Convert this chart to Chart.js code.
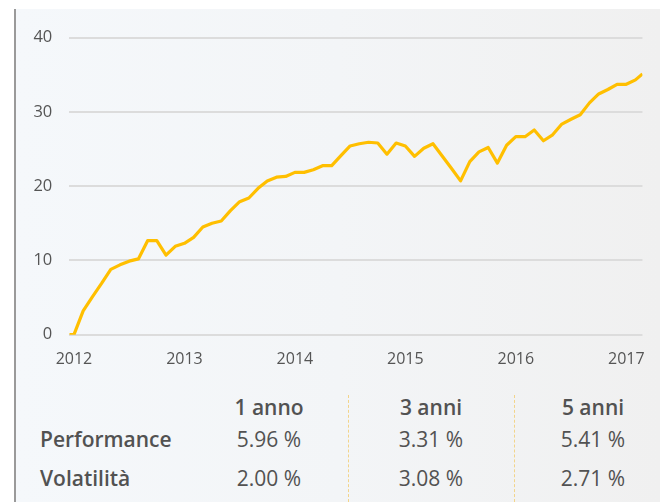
<!DOCTYPE html>
<html>
<head>
<meta charset="utf-8">
<script src="https://cdn.jsdelivr.net/npm/chart.js@4/dist/chart.umd.min.js"></script>
<style>
  html, body { margin: 0; padding: 0; background: #ffffff; }
  #wrap { position: relative; width: 660px; height: 502px; overflow: hidden; background: #ffffff; }
  #panel { position: absolute; left: 16px; top: 9px; right: 0; bottom: 0;
           background: linear-gradient(to right, #f5f8fb 0%, #f3f5f7 50%, #f0f0f0 100%); }
  #leftline { position: absolute; left: 14px; top: 9px; width: 2px; bottom: 0; background: #9a9a9a; }
  #chartbox { position: absolute; left: 0; top: 0; width: 660px; height: 390px; }
  .t { position: absolute; font-family: "Open Sans", sans-serif; color: #525252; white-space: nowrap; line-height: normal; }
  .hd { font-weight: 600; font-size: 21px; transform: translateX(-50%); }
  .rl { font-weight: 600; font-size: 21px; left: 40px; }
  .val { font-size: 21px; transform: translateX(-50%); }
  .div { position: absolute; top: 395px; bottom: 0; width: 0; border-left: 1px dashed #f2d48a; }
</style>
</head>
<body>
<div id="wrap">
  <div id="panel"></div>
  <div id="leftline"></div>
  <div id="chartbox"><canvas id="c" width="660" height="390"></canvas></div>
  <div id="table"></div>
</div>
<script>
// ---- data ----
const dates = [
  "2011-12-16",
  "2012-01-01","2012-02-01","2012-03-01","2012-04-01","2012-05-01","2012-06-01",
  "2012-07-01","2012-08-01","2012-09-01","2012-10-01","2012-11-01","2012-12-01",
  "2013-01-01","2013-02-01","2013-03-01","2013-04-01","2013-05-01","2013-06-01",
  "2013-07-01","2013-08-01","2013-09-01","2013-10-01","2013-11-01","2013-12-01",
  "2014-01-01","2014-02-01","2014-03-01","2014-04-01","2014-05-01","2014-06-01",
  "2014-07-01","2014-08-01","2014-09-01","2014-10-01","2014-11-01","2014-12-01",
  "2015-01-01","2015-02-01","2015-03-01","2015-04-01","2015-05-01","2015-06-01",
  "2015-07-01","2015-08-01","2015-09-01","2015-10-01","2015-11-01","2015-12-01",
  "2016-01-01","2016-02-01","2016-03-01","2016-04-01","2016-05-01","2016-06-01",
  "2016-07-01","2016-08-01","2016-09-01","2016-10-01","2016-11-01","2016-12-01",
  "2017-01-01","2017-02-01","2017-02-24"
];
const performance = [
  0,
  0, 3.2, 5.1, 6.9, 8.8, 9.4, 9.9, 10.2, 12.65, 12.65, 10.7, 11.9,
  12.3, 13.1, 14.5, 15.0, 15.3, 16.7, 17.9, 18.4, 19.7, 20.7, 21.2, 21.3,
  21.85, 21.85, 22.2, 22.75, 22.75, 24.1, 25.4, 25.7, 25.9, 25.8, 24.3, 25.8,
  25.4, 24.0, 25.1, 25.7, 24.05, 22.4, 20.7, 23.3, 24.6, 25.2, 23.1, 25.5,
  26.65, 26.65, 27.55, 26.1, 26.9, 28.35, 29.0, 29.6, 31.2, 32.4, 33.0, 33.7,
  33.7, 34.3, 35.1
];
const yearTicks = [2012, 2013, 2014, 2015, 2016, 2017];
const yTicks = [0, 10, 20, 30, 40];

const periods = ["1 anno", "3 anni", "5 anni"];
const rowLabels = ["Performance", "Volatilità"];
const perfValues = ["5.96 %", "3.31 %", "5.41 %"];
const volValues = ["2.00 %", "3.08 %", "2.71 %"];

// ---- helpers ----
function toYear(s) {
  const [y, m, d] = s.split("-").map(Number);
  return y + (m - 1) / 12 + (d - 1) / 365;
}
const points = dates.map((d, i) => ({ x: toYear(d), y: performance[i] }));

const FONT = '"Open Sans", sans-serif';
new Chart(document.getElementById("c"), {
  type: "line",
  data: {
    datasets: [{
      data: points,
      borderColor: "#ffbf00",
      borderWidth: 3.2,
      pointRadius: 0,
      tension: 0,
      fill: false,
      borderJoinStyle: "round"
    }]
  },
  options: {
    responsive: false,
    animation: false,
    devicePixelRatio: 1,
    layout: { padding: { top: 37.5, right: 15, left: 0, bottom: 0 } },
    plugins: { legend: { display: false }, tooltip: { enabled: false } },
    scales: {
      x: {
        type: "linear",
        min: toYear(dates[0]),
        max: toYear(dates[dates.length - 1]),
        afterBuildTicks: (s) => { s.ticks = yearTicks.map(v => ({ value: v })); },
        afterFit: (s) => { s.height = 55.3; },
        grid: { display: false, drawTicks: false },
        border: { display: false },
        ticks: { padding: 15, color: "#555", font: { family: FONT, size: 16 },
                 callback: (v) => String(v), maxRotation: 0 }
      },
      y: {
        min: 0, max: 40,
        afterBuildTicks: (s) => { s.ticks = yTicks.map(v => ({ value: v })); },
        afterFit: (s) => { s.width = 69.3; },
        grid: { color: "#dcdcdc", lineWidth: 2, drawTicks: false },
        border: { display: false },
        ticks: { padding: 17, color: "#555", font: { family: FONT, size: 16.5 } }
      }
    }
  }
});

// ---- table ----
const tbl = document.getElementById("table");
const colX = [269, 431, 593];
function add(cls, text, left, top) {
  const el = document.createElement("div");
  el.className = "t " + cls;
  el.textContent = text;
  if (left !== null) el.style.left = left + "px";
  el.style.top = top + "px";
  tbl.appendChild(el);
}
periods.forEach((p, i) => add("hd", p, colX[i], 392.5));
add("rl", rowLabels[0], null, 425);
add("rl", rowLabels[1], null, 463.5);
perfValues.forEach((v, i) => add("val", v, colX[i], 425));
volValues.forEach((v, i) => add("val", v, colX[i], 463.5));
[348, 514].forEach(x => {
  const d = document.createElement("div");
  d.className = "div";
  d.style.left = x + "px";
  tbl.appendChild(d);
});
</script>
</body>
</html>
